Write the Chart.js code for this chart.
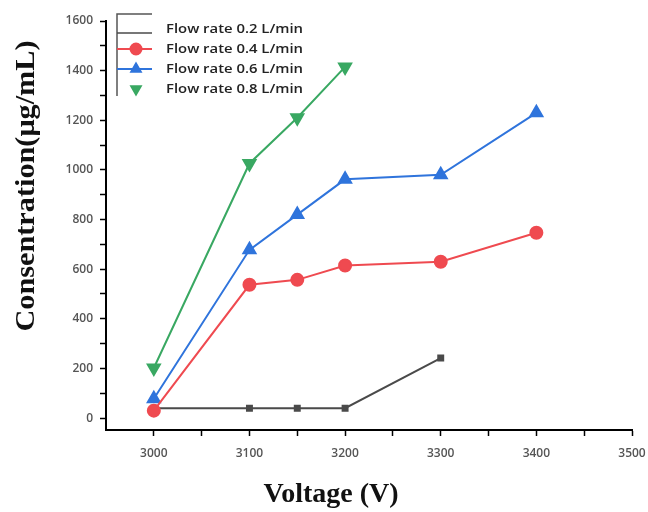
<!DOCTYPE html>
<html>
<head>
<meta charset="utf-8">
<script src="https://cdn.jsdelivr.net/npm/chart.js@4/dist/chart.umd.min.js"></script>
<style>
html,body{margin:0;padding:0;background:#fff;}
#wrap{width:648px;height:512px;position:relative;}
</style>
</head>
<body>
<div id="wrap"><canvas id="c" width="648" height="512"></canvas></div>
<script>
const voltage = [3000, 3100, 3150, 3200, 3300, 3400];
const flow02 = [40, 40, 40, 40, 242, null];
const flow04 = [30, 537, 557, 615, 630, 747];
const flow06 = [78, 678, 820, 962, 980, 1230];
const flow08 = [202, 1026, 1210, 1415, null, null];
const seriesNames = ['Flow rate 0.2 L/min', 'Flow rate 0.4 L/min', 'Flow rate 0.6 L/min', 'Flow rate 0.8 L/min'];
const xTicks = [3000, 3050, 3100, 3150, 3200, 3250, 3300, 3350, 3400, 3450, 3500];
const xLabels = [3000, 3100, 3200, 3300, 3400, 3500];
const yTicks = [0,100,200,300,400,500,600,700,800,900,1000,1100,1200,1300,1400,1500,1600];
const yLabels = [0,200,400,600,800,1000,1200,1400,1600];
const xTitle = 'Voltage (V)';
const yTitle = 'Consentration(μg/mL)';

const colors = ['#4a4a4a', '#ef4a50', '#2f74dc', '#39a862'];

function pts(arr){ return voltage.map((v,i)=>({x:v,y:arr[i]})).filter(p=>p.y!==null); }

const datasets = [
  {label:seriesNames[0], data:pts(flow02), borderColor:colors[0], backgroundColor:colors[0], pointStyle:'rect', pointRadius:3.5, borderWidth:2, order:4},
  {label:seriesNames[1], data:pts(flow04), borderColor:colors[1], backgroundColor:colors[1], pointStyle:'circle', pointRadius:6, borderWidth:2, order:1},
  {label:seriesNames[2], data:pts(flow06), borderColor:colors[2], backgroundColor:colors[2], pointStyle:'triangle', pointRadius:7, borderWidth:2, order:2},
  {label:seriesNames[3], data:pts(flow08), borderColor:colors[3], backgroundColor:colors[3], pointStyle:'triangle', pointRotation:180, pointRadius:7, borderWidth:2, order:3}
];

const overlay = {
  id:'overlay',
  afterDraw(chart){
    const ctx = chart.ctx;
    ctx.save();
    // legend
    ctx.strokeStyle = '#555';
    ctx.lineWidth = 1.5;
    ctx.beginPath();
    ctx.moveTo(152,14); ctx.lineTo(117,14); ctx.lineTo(117,96);
    ctx.stroke();
    const lineY = [33, 49, 69, 89];
    const textY = [29, 49, 69, 89];
    lineY.forEach((y,i)=>{
      const ds = chart.data.datasets[i];
      ctx.strokeStyle = ds.borderColor;
      ctx.lineWidth = (i===0)?1.5:2;
      if(i!==3){
        ctx.beginPath(); ctx.moveTo(117,y); ctx.lineTo(152,y); ctx.stroke();
      }
      if(i>0){
        ctx.fillStyle = ds.backgroundColor;
        Chart.helpers.drawPoint(ctx, {pointStyle: ds.pointStyle, radius: 5.5, rotation: ds.pointRotation||0, borderWidth:1}, 136, y);
        ctx.fill();
      }
      ctx.fillStyle = '#222';
      ctx.font = '600 13px "Open Sans"';
      ctx.textBaseline = 'middle';
      ctx.textAlign = 'left';
      const w = ctx.measureText(ds.label).width;
      ctx.save();
      ctx.translate(166, textY[i]);
      ctx.scale(137 / w, 1);
      ctx.fillText(ds.label, 0, 0);
      ctx.restore();
    });
    // axis titles
    ctx.fillStyle = '#111';
    ctx.font = 'bold 28px "Liberation Serif"';
    ctx.textAlign = 'center';
    ctx.textBaseline = 'alphabetic';
    ctx.fillText(xTitle, 331, 502);
    ctx.save();
    ctx.translate(34, 186);
    ctx.rotate(-Math.PI/2);
    ctx.scale(1.08, 1);
    ctx.fillText(yTitle, 0, 0);
    ctx.restore();
    ctx.restore();
  }
};

new Chart(document.getElementById('c'), {
  type:'line',
  data:{datasets},
  options:{
    responsive:false,
    animation:false,
    layout:{padding:{left:0, right:16, top:21, bottom:0}},
    plugins:{legend:{display:false}, tooltip:{enabled:false}},
    scales:{
      x:{
        type:'linear', min:2950, max:3500,
        afterBuildTicks(s){ s.ticks = xTicks.map(v=>({value:v})); },
        afterFit(s){ s.height = 82; s.paddingLeft = 0; s.paddingRight = 0; },
        border:{color:'#000', width:2},
        grid:{drawOnChartArea:false, tickLength:6, tickWidth:1.5, tickColor:'#000'},
        ticks:{
          color:'#555', font:{family:'"Open Sans"', size:12, weight:'600'}, padding:10,
          maxRotation:0, autoSkip:false,
          callback(v){ return xLabels.includes(v) ? String(v) : ''; }
        }
      },
      y:{
        type:'linear', min:-48, max:1600,
        afterBuildTicks(s){ s.ticks = yTicks.map(v=>({value:v})); },
        afterFit(s){ s.width = 106; s.paddingTop = 0; s.paddingBottom = 0; },
        border:{color:'#000', width:2},
        grid:{drawOnChartArea:false, tickLength:6, tickWidth:1.5, tickColor:'#000'},
        ticks:{
          color:'#555', font:{family:'"Open Sans"', size:12, weight:'600'}, padding:7,
          autoSkip:false,
          callback(v){ return yLabels.includes(v) ? String(v) : ''; }
        }
      }
    }
  },
  plugins:[overlay]
});
</script>
</body>
</html>
